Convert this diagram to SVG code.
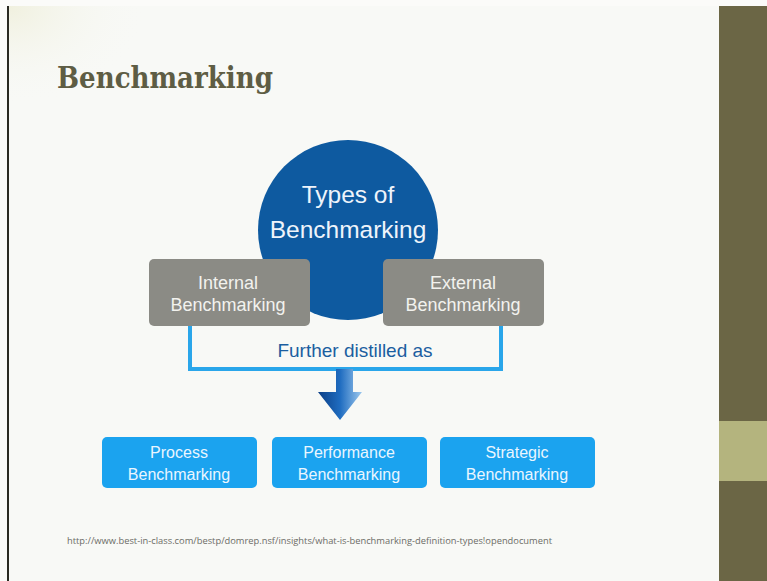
<svg xmlns="http://www.w3.org/2000/svg" width="767" height="581" viewBox="0 0 767 581">
  <defs>
    <linearGradient id="arrowFill" x1="0" y1="0" x2="1" y2="0">
      <stop offset="0" stop-color="#0b3f86"/>
      <stop offset="0.5" stop-color="#1f6cc0"/>
      <stop offset="1" stop-color="#9cc8ee"/>
    </linearGradient>
    <radialGradient id="corner" cx="0" cy="0" r="1">
      <stop offset="0" stop-color="#f0f0de"/>
      <stop offset="1" stop-color="#f8f9f6" stop-opacity="0"/>
    </radialGradient>
  </defs>
  <style>
    .sans { font-family: "Liberation Sans", Arial, sans-serif; text-anchor: middle; }
    .gray { fill: #8b8b85; }
    .grayText { fill: #f2f2ee; font-size: 18px; }
    .blue { fill: #1ba3ef; }
    .blueText { fill: #eaf6ff; font-size: 16px; }
    .bracket { fill: none; stroke: #2aa6ea; stroke-width: 4; }
  </style>

  <!-- page background and frame -->
  <rect x="0" y="0" width="767" height="581" fill="#fbfbf9"/>
  <rect x="8" y="6" width="712" height="575" fill="#f8f9f6"/>
  <rect x="8" y="6" width="140" height="100" fill="url(#corner)"/>
  <rect x="7" y="6" width="2" height="575" fill="#2a2a22"/>
  <rect x="719" y="6" width="48" height="575" fill="#6b6645"/>
  <rect x="719" y="421" width="48" height="60" fill="#b4b47e"/>

  <!-- title -->
  <text x="57" y="88" font-family="'DejaVu Serif Condensed', 'DejaVu Serif', serif" font-weight="bold" font-size="30" fill="#5e5d44" textLength="216" lengthAdjust="spacingAndGlyphs">Benchmarking</text>

  <!-- connectors -->
  <g id="connectors">
    <path class="bracket" d="M190,326 V369 H501 V326"/>
    <path d="M336,369 H353 V392 H362 L340,420 L318,392 H336 Z" fill="url(#arrowFill)"/>
  </g>

  <g id="center">
    <circle cx="348" cy="230" r="90" fill="#0e5aa0"/>
    <text class="sans" x="348" y="203" font-size="24.5" fill="#eef4fb">Types of</text>
    <text class="sans" x="348" y="238" font-size="24.5" fill="#eef4fb">Benchmarking</text>
  </g>

  <g id="internal">
    <rect class="gray" x="149" y="259" width="161" height="67" rx="5"/>
    <text class="sans grayText" x="228" y="289">Internal</text>
    <text class="sans grayText" x="228" y="311">Benchmarking</text>
  </g>

  <g id="external">
    <rect class="gray" x="383" y="259" width="161" height="67" rx="5"/>
    <text class="sans grayText" x="463" y="289">External</text>
    <text class="sans grayText" x="463" y="311">Benchmarking</text>
  </g>

  <g id="distilled">
    <text class="sans" x="355" y="357" font-size="19" fill="#1b5ea0">Further distilled as</text>
  </g>

  <g id="process">
    <rect class="blue" x="102" y="437" width="155" height="51" rx="5"/>
    <text class="sans blueText" x="179" y="458">Process</text>
    <text class="sans blueText" x="179" y="480">Benchmarking</text>
  </g>

  <g id="performance">
    <rect class="blue" x="272" y="437" width="155" height="51" rx="5"/>
    <text class="sans blueText" x="349" y="458">Performance</text>
    <text class="sans blueText" x="349" y="480">Benchmarking</text>
  </g>

  <g id="strategic">
    <rect class="blue" x="440" y="437" width="155" height="51" rx="5"/>
    <text class="sans blueText" x="517" y="458">Strategic</text>
    <text class="sans blueText" x="517" y="480">Benchmarking</text>
  </g>

  <!-- source link -->
  <text x="67" y="544" font-family="'Open Sans', 'Liberation Sans', sans-serif" font-size="9" fill="#6c6c66" textLength="485" lengthAdjust="spacingAndGlyphs">http://www.best-in-class.com/bestp/domrep.nsf/insights/what-is-benchmarking-definition-types!opendocument</text>
</svg>
